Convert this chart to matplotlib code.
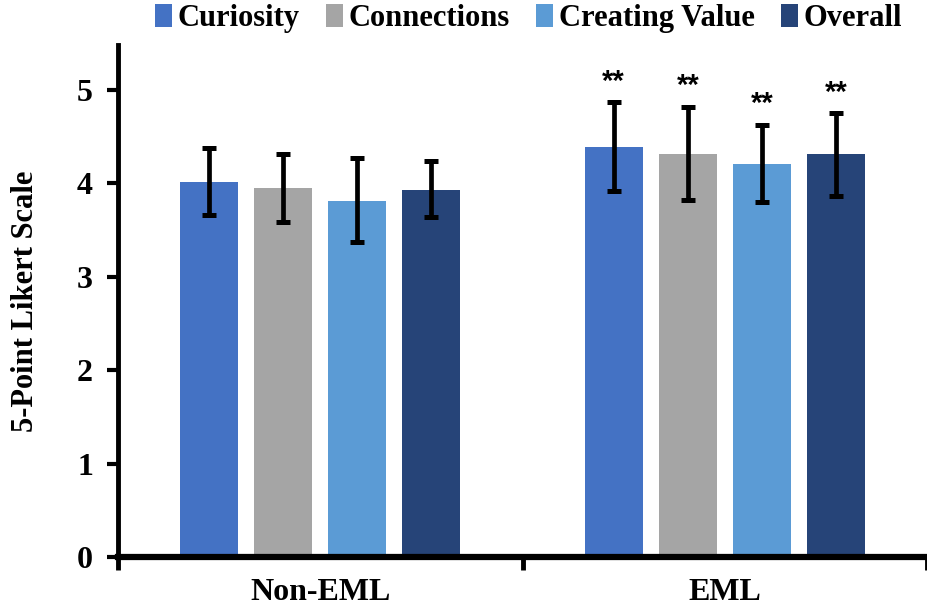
import numpy as np
import matplotlib.pyplot as plt

groups = ["Non-EML", "EML"]
series = ["Curiosity", "Connections", "Creating Value", "Overall"]
colors = ["#4472C4", "#A5A5A5", "#5B9BD5", "#264478"]

means = {
    "Curiosity": [4.02, 4.39],
    "Connections": [3.95, 4.32],
    "Creating Value": [3.81, 4.21],
    "Overall": [3.93, 4.31],
}
err_low = {
    "Curiosity": [3.66, 3.92],
    "Connections": [3.59, 3.82],
    "Creating Value": [3.37, 3.80],
    "Overall": [3.64, 3.87],
}
err_high = {
    "Curiosity": [4.38, 4.87],
    "Connections": [4.31, 4.82],
    "Creating Value": [4.27, 4.63],
    "Overall": [4.24, 4.75],
}
stars = ["", "**"]

plt.rcParams['font.family'] = ['Liberation Serif', 'DejaVu Serif']
plt.rcParams['font.weight'] = 'bold'

fig = plt.figure(figsize=(9.27, 6.10), dpi=100)
ax = fig.add_axes([0.1273, 0.0869, 0.8727, 0.839])

x = np.arange(len(groups)) + 0.5
pitch = 0.183
width = 0.143

for i, name in enumerate(series):
    pos = x + (i - 1.5) * pitch
    m = np.array(means[name])
    lo = m - np.array(err_low[name])
    hi = np.array(err_high[name]) - m
    ax.bar(pos, m, width, color=colors[i], label=name, zorder=2)
    ax.errorbar(pos, m, yerr=[lo, hi], fmt='none', ecolor='black',
                elinewidth=3.4, capsize=5, capthick=3.6, zorder=3)
    for j, s in enumerate(stars):
        if s:
            ax.text(pos[j], err_high[name][j] + 0.07, s, ha='center', va='bottom',
                    fontsize=21, fontweight='bold', family='Liberation Sans')

ax.set_xlim(0, 2)
ax.set_ylim(0, 5.48)
ax.set_yticks([0, 1, 2, 3, 4, 5])
ax.set_xticks([0, 1, 2])
ax.set_xticklabels([])
ax.set_xticks(x, minor=True)
ax.set_xticklabels(groups, minor=True)
ax.tick_params(axis='x', which='minor', length=0, pad=15, labelsize=23)
ax.tick_params(axis='x', which='major', length=9, width=3.5, direction='out')
ax.tick_params(axis='y', length=8, width=3, labelsize=23, pad=10)

ax.spines['top'].set_visible(False)
ax.spines['right'].set_visible(False)
ax.spines['left'].set_linewidth(3.5)
ax.spines['bottom'].set_linewidth(4.5)

ax.set_ylabel("5-Point Likert Scale", fontsize=22, fontweight='bold')
ax.yaxis.set_label_coords(-0.097, 0.5)

fig.legend(loc='upper left', bbox_to_anchor=(155 / 927, 1 - 4 / 610), ncol=4, frameon=False,
           prop={'family': 'Liberation Serif', 'weight': 'bold', 'size': 22},
           handlelength=0.55, handleheight=0.8, handletextpad=0.2,
           columnspacing=0.85, borderaxespad=0, borderpad=0)

fig.savefig("out.png", dpi=100)
